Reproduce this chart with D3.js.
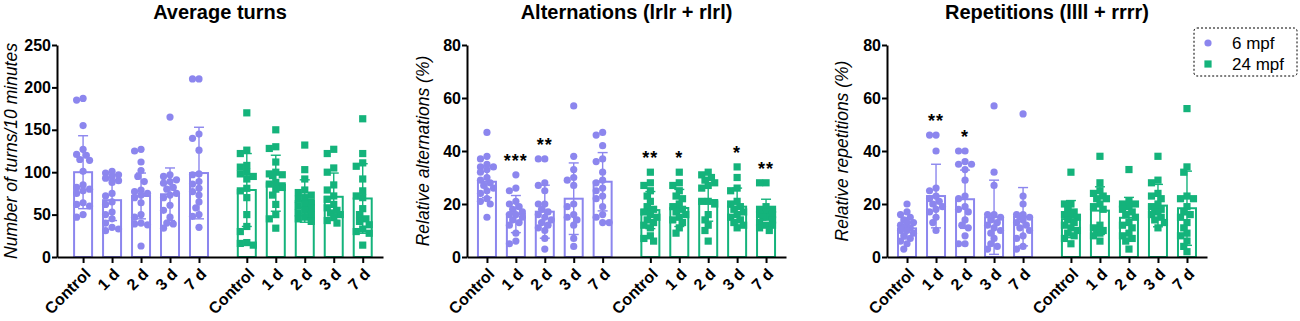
<!DOCTYPE html>
<html lang="en">
<head>
    <meta charset="UTF-8">
    <title>Turns, alternations and repetitions</title>
    <script src="https://cdn.jsdelivr.net/npm/d3@7"></script>
    <style>
        body{
            margin: 0;
            background: #fff;
            font-family: "Liberation Sans", Arial, sans-serif;
        }
    </style>
</head>
<body>
<svg id="main" width="1300" height="321"></svg>
<script>

    const groups = ["Control", "1 d", "2 d", "3 d", "7 d"];
    const series = ["6 mpf", "24 mpf"];

    // Average turns (individual fish, mean, SD)
    const turnsPts6 = [
        [187,185,155,127,121,120,115,114,101,85,82,80,78,75,64,62,60,50,47],
        [101,99,97,95,93,90,88,75,72,65,62,53,50,45,40,35,33,31],
        [127,125,112,102,95,89,79,77,75,73,70,64,50,47,40,39,38,13],
        [165,97,95,91,89,87,82,80,75,73,70,61,55,47,40,39,34],
        [210,210,145,140,126,98,97,89,86,81,77,73,65,58,50,48,35]
    ];
    const turnsMean6 = [100, 67, 72, 74, 99];
    const turnsSd6 = [43, 24, 27, 31, 54];
    const turnsPts24 = [
        [170,126,122,108,106,100,98,95,92,81,78,70,50,36,30,17,16,14],
        [150,130,128,112,100,98,97,96,88,86,82,80,73,62,50,45,34],
        [132,103,92,79,76,73,70,68,65,62,60,58,55,52,50,47,45,42],
        [127,122,105,100,85,79,72,68,62,58,55,52,50,47,43,40],
        [163,122,111,107,92,78,72,70,57,50,45,42,38,33,30,28,14]
    ];
    const turnsMean24 = [79, 87, 66, 71, 69];
    const turnsSd24 = [43, 33, 25, 28, 41];

    // Alternations (lrlr + rlrl)
    const altPts6 = [
        [47,38,37,35,34,34,33,32,30,29,28,27,26,25,24,22,21,20,15],
        [31,26,25,21,20,19,18,17,16,16,15,14,13,12,9,6,5],
        [37,37,28,27,25,20,20,18,17,16,15,14,13,12,11,10,7,3],
        [57,38,33,30,29,27,20,19,16,15,14,12,7,4],
        [47,46,42,37,36,32,29,28,26,25,23,22,19,16,15,13,13]
    ];
    const altMean6 = [28.4, 16.2, 17.1, 22, 28.4];
    const altSd6 = [6, 7, 10, 13.5, 11];
    const altPts24 = [
        [32,28,27,25,23,21,19,18,17,16,15,14,13,12,11,8,7,6],
        [32,28,27,25,23,22,20,19,18,17,16,15,14,13,11,9],
        [32,31,30,29,28,27,26,21,21,20,16,14,12,10,6],
        [34,30,26,25,21,20,19,18,17,16,15,14,13,12,11],
        [28,28,19,18,18,17,16,16,15,15,14,13,12,12,11,10]
    ];
    const altMean24 = [17.7, 18.5, 21.5, 19, 18.1];
    const altSd24 = [7, 7, 8, 7, 3.7];
    const altStars6 = ["", "***", "**", "", ""];
    const altStars24 = ["**", "*", "", "*", "**"];

    // Repetitions (llll + rrrr)
    const repPts6 = [
        [20,17,16,15,14,13,13,12,11,11,10,10,9,8,7,6,5,3],
        [46,46,40,26,25,23,22,21,20,19,18,17,15,13,10],
        [40,40,36,35,35,33,29,23,22,19,18,17,14,12,11,8,5,5],
        [57,32,27,16,16,15,14,13,12,11,10,9,7,5,4,3],
        [54,23,20,16,16,15,15,14,13,12,11,10,8,7,4,3]
    ];
    const repMean6 = [10.8, 23, 21.8, 15, 15.2];
    const repSd6 = [4, 12, 11, 14, 11];
    const repPts24 = [
        [32,20,20,18,17,16,16,15,14,13,12,11,10,9,8,7,5],
        [38,28,25,24,23,22,22,20,19,18,12,11,10,10,9,8,6],
        [33,21,20,20,19,18,17,16,15,13,12,11,9,8,7,6,3],
        [38,29,28,24,23,22,20,19,18,18,17,16,15,14,13,11],
        [56,34,32,23,22,22,19,17,16,15,13,11,9,8,6,4,2]
    ];
    const repMean24 = [14.3, 17.5, 14.8, 19.4, 18.4];
    const repSd24 = [7, 9, 7.7, 8, 14];
    const repStars6 = ["", "**", "*", "", ""];
    const noStars = ["", "", "", "", ""];

    const purple = "#8c86ee";
    const green = "#14b37b";
    const yTop = 45, yBottom = 257;
    const groupGap = 5.65;   // second group starts after this many category steps

    const panels = [
        {title: "Average turns", ylabel: "Number of turns/10 minutes", x0: 57, x1: 383, dom: [-0.9, 10.35],
         ymax: 250, yticks: [0, 50, 100, 150, 200, 250], labelX: 17,
         pts: [turnsPts6, turnsPts24], mean: [turnsMean6, turnsMean24], sd: [turnsSd6, turnsSd24], stars: [noStars, noStars]},
        {title: "Alternations (lrlr + rlrl)", ylabel: "Relative alternations (%)", x0: 467, x1: 786, dom: [-0.69, 10.34],
         ymax: 80, yticks: [0, 20, 40, 60, 80], labelX: 429,
         pts: [altPts6, altPts24], mean: [altMean6, altMean24], sd: [altSd6, altSd24], stars: [altStars6, altStars24]},
        {title: "Repetitions (llll + rrrr)", ylabel: "Relative repetitions (%)", x0: 887, x1: 1207, dom: [-0.69, 10.34],
         ymax: 80, yticks: [0, 20, 40, 60, 80], labelX: 848,
         pts: [repPts6, repPts24], mean: [repMean6, repMean24], sd: [repSd6, repSd24], stars: [repStars6, noStars]}
    ];

    const svg = d3.select("svg#main");
    const colors = [purple, green];

    // simple deterministic beeswarm: spread points sideways when they overlap
    function swarm(values, y, r, limit) {
        const placed = [];
        const sorted = values.slice().sort((a, b) => b - a);
        const step = r * 0.9;
        sorted.forEach(v => {
            const py = y(v);
            let best = null, bestScore = -1;
            for (let k = 0; k <= 12; k++) {
                const off = (k % 2 === 0 ? 1 : -1) * Math.ceil(k / 2) * step;
                if (Math.abs(off) > limit) continue;
                let minD = Infinity;
                placed.forEach(p => {
                    const d = Math.hypot(p.dx - off, p.y - py);
                    if (d < minD) minD = d;
                });
                if (minD >= 2 * r * 0.85) { best = off; bestScore = Infinity; break; }
                if (minD > bestScore) { bestScore = minD; best = off; }
            }
            placed.push({v: v, y: py, dx: best});
        });
        return placed;
    }

    panels.forEach(p => {
        const x = d3.scaleLinear().domain(p.dom).range([p.x0, p.x1]);
        const y = d3.scaleLinear().domain([0, p.ymax]).range([yBottom, yTop]);
        const pos = s => groups.map((_, i) => i + s * groupGap);
        const g = svg.append("g");

        // title
        g.append("text")
            .attr("x", (p.x0 + p.x1) / 2)
            .attr("y", 19)
            .attr("text-anchor", "middle")
            .attr("font-size", 20)
            .attr("font-weight", "bold")
            .text(p.title);

        // y label
        g.append("text")
            .attr("transform", `translate(${p.labelX},${(yTop + yBottom) / 2}) rotate(-90)`)
            .attr("text-anchor", "middle")
            .attr("font-size", 17.5)
            .attr("font-style", "italic")
            .text(p.ylabel);

        const barW = 18;
        [0, 1].forEach(s => {
            const col = colors[s];
            const xs = pos(s);
            const bars = g.append("g");
            bars.selectAll("rect")
                .data(p.mean[s])
                .enter()
                .append("rect")
                .attr("x", (d, i) => x(xs[i]) - barW / 2)
                .attr("y", d => y(d))
                .attr("width", barW)
                .attr("height", d => yBottom - y(d))
                .attr("fill", "#fff")
                .attr("stroke", col)
                .attr("stroke-width", 2);

            // error bars (mean ± SD)
            const err = g.append("g").attr("stroke", col).attr("stroke-width", 1.4);
            p.mean[s].forEach((m, i) => {
                const cx = x(xs[i]);
                const hi = y(m + p.sd[s][i]), lo = y(Math.max(0, m - p.sd[s][i]));
                err.append("line").attr("x1", cx).attr("x2", cx).attr("y1", hi).attr("y2", lo);
                err.append("line").attr("x1", cx - 5).attr("x2", cx + 5).attr("y1", hi).attr("y2", hi);
                err.append("line").attr("x1", cx - 5).attr("x2", cx + 5).attr("y1", lo).attr("y2", lo);
            });

            // individual points
            p.pts[s].forEach((vals, i) => {
                const cx = x(xs[i]);
                const placed = swarm(vals, y, 3.6, 8);
                if (s === 0) {
                    g.append("g").selectAll("circle")
                        .data(placed)
                        .enter()
                        .append("circle")
                        .attr("cx", d => cx + d.dx)
                        .attr("cy", d => d.y)
                        .attr("r", 3.6)
                        .attr("fill", col);
                } else {
                    g.append("g").selectAll("rect")
                        .data(placed)
                        .enter()
                        .append("rect")
                        .attr("x", d => cx + d.dx - 3.6)
                        .attr("y", d => d.y - 3.6)
                        .attr("width", 7.2)
                        .attr("height", 7.2)
                        .attr("fill", col);
                }
                // significance stars above the highest point
                const st = p.stars[s][i];
                if (st) {
                    g.append("text")
                        .attr("x", cx)
                        .attr("y", y(d3.max(vals)) - 8)
                        .attr("text-anchor", "middle")
                        .attr("font-size", 18)
                        .attr("font-weight", "bold")
                        .attr("letter-spacing", 1)
                        .text(st);
                }
            });
        });

        // axes
        const yAxis = g.append("g")
            .attr("transform", `translate(${p.x0},0)`)
            .call(d3.axisLeft(y).tickValues(p.yticks).tickSize(5).tickSizeOuter(0).tickPadding(1));
        const ticks = pos(0).concat(pos(1));
        const xAxis = g.append("g")
            .attr("transform", `translate(0,${yBottom})`)
            .call(d3.axisBottom(x).tickValues(ticks).tickFormat((d, i) => groups[i % 5]).tickSize(6).tickSizeOuter(0));
        [yAxis, xAxis].forEach(a => {
            a.select(".domain").attr("stroke", "#000").attr("stroke-width", 2);
            a.selectAll(".tick line").attr("stroke", "#000").attr("stroke-width", 2);
            a.selectAll("text").attr("fill", "#000").attr("font-size", 16).attr("font-weight", "bold")
                .attr("font-family", "Liberation Sans, Arial, sans-serif");
        });
        xAxis.selectAll("text")
            .attr("x", 0).attr("y", 0).attr("dy", "0.35em")
            .attr("text-anchor", "end")
            .attr("transform", "translate(4,14) rotate(-45)");
    });

    // legend
    const lg = svg.append("g");
    lg.append("rect")
        .attr("x", 1194).attr("y", 28).attr("width", 103).attr("height", 48)
        .attr("rx", 3)
        .attr("fill", "none").attr("stroke", "#000").attr("stroke-width", 1)
        .attr("stroke-dasharray", "2,2");
    series.forEach((name, i) => {
        const cy = 43 + i * 21;
        if (i === 0) {
            lg.append("circle").attr("cx", 1208).attr("cy", cy).attr("r", 3.6).attr("fill", colors[i]);
        } else {
            lg.append("rect").attr("x", 1204.4).attr("y", cy - 3.6).attr("width", 7.2).attr("height", 7.2).attr("fill", colors[i]);
        }
        lg.append("text")
            .attr("x", 1232).attr("y", cy).attr("dy", "0.35em")
            .attr("font-size", 17)
            .text(name);
    });

</script>
</body>
</html>
